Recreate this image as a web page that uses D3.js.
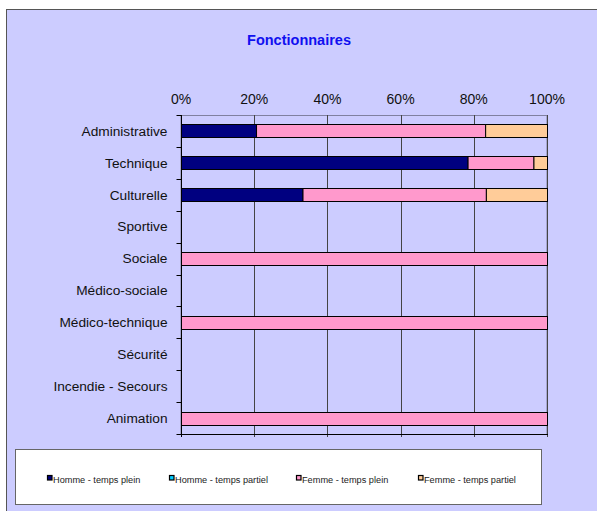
<!DOCTYPE html>
<html>
<head>
<meta charset="utf-8">
<script src="https://cdn.jsdelivr.net/npm/d3@7/dist/d3.min.js"></script>
<style>
  body { margin: 0; background: #fff; }
  svg { display: block; font-family: "Liberation Sans", Arial, sans-serif; }
</style>
</head>
<body>
<div id="chart"></div>
<script>
'use strict';

var categories = ["Administrative", "Technique", "Culturelle", "Sportive", "Sociale",
    "Médico-sociale", "Médico-technique", "Sécurité", "Incendie - Secours", "Animation"];
var series = ["Homme - temps plein", "Homme - temps partiel", "Femme - temps plein", "Femme - temps partiel"];
var hommePlein   = [20.5, 78.3, 33.2, 0, 0,   0, 0,   0, 0, 0];
var hommePartiel = [0,    0,    0,    0, 0,   0, 0,   0, 0, 0];
var femmePlein   = [62.6, 18.0, 50.1, 0, 100, 0, 100, 0, 0, 100];
var femmePartiel = [16.9, 3.7,  16.7, 0, 0,   0, 0,   0, 0, 0];
var tickValues = [0, 0.2, 0.4, 0.6, 0.8, 1];
var colors = ["#000080", "#00CCFF", "#FF99CC", "#FFCC99"];

var width = 597, height = 511;
var plotLeft = 181, plotRight = 547, plotTop = 115, plotBottom = 434;

// build rows as shares of each category total
var rows = categories.map(function (c, i) {
    var vals = [hommePlein[i], hommePartiel[i], femmePlein[i], femmePartiel[i]];
    var total = d3.sum(vals) || 1;
    var r = { cat: c };
    series.forEach(function (s, j) { r[s] = vals[j] / total; });
    return r;
});
var stacked = d3.stack().keys(series)(rows);

var x = d3.scaleLinear().domain([0, 1]).range([plotLeft, plotRight]);
var y = d3.scaleBand().domain(categories).range([plotTop, plotBottom]);
var barH = 13;

var svg = d3.select("#chart").append("svg")
    .attr("width", width)
    .attr("height", height);

// outer frame
svg.append("rect")
    .attr("x", 6.5).attr("y", 9.5)
    .attr("width", width + 10).attr("height", height + 10)
    .attr("fill", "#CCCCFF")
    .attr("stroke", "#555");

svg.append("text")
    .attr("x", 299).attr("y", 45)
    .attr("text-anchor", "middle")
    .attr("font-size", 14.5)
    .attr("font-weight", "bold")
    .attr("fill", "#1010F0")
    .text("Fonctionnaires");

// plot border (top/right gray)
svg.append("rect")
    .attr("x", plotLeft).attr("y", plotTop + 0.5)
    .attr("width", plotRight - plotLeft).attr("height", plotBottom - plotTop)
    .attr("fill", "none")
    .attr("stroke", "#8080A0");

// gridlines
svg.append("g")
    .selectAll("line")
    .data(tickValues)
    .enter().append("line")
    .attr("x1", d => Math.round(x(d)) + 0.5)
    .attr("x2", d => Math.round(x(d)) + 0.5)
    .attr("y1", plotTop)
    .attr("y2", plotBottom + 3)
    .attr("stroke", (d, i) => (i === 0 ? "#000" : "#444"))
    .attr("stroke-width", 1);

// top tick labels
svg.append("g")
    .selectAll("text")
    .data(tickValues)
    .enter().append("text")
    .attr("x", d => x(d))
    .attr("y", 104)
    .attr("text-anchor", "middle")
    .attr("font-size", 14)
    .attr("fill", "#111")
    .text(d3.format(".0%"));

// bars
svg.append("g")
    .selectAll("g")
    .data(stacked)
    .enter().append("g")
    .attr("fill", (d, i) => colors[i])
    .selectAll("rect")
    .data(d => d.filter(p => p[1] - p[0] > 0))
    .enter().append("rect")
    .attr("x", d => x(d[0]) + 0.5)
    .attr("y", d => Math.round(y(d.data.cat) + (y.bandwidth() - barH) / 2) + 0.5)
    .attr("width", d => x(d[1]) - x(d[0]))
    .attr("height", barH)
    .attr("stroke", "#000")
    .attr("stroke-width", 1);

// y axis
var yAxis = svg.append("g").attr("transform", "translate(" + (plotLeft + 0.5) + ",0)");
yAxis.append("line")
    .attr("y1", plotTop).attr("y2", plotBottom + 3)
    .attr("stroke", "#000");
var bounds = d3.range(categories.length + 1).map(i => plotTop + i * y.step());
yAxis.selectAll("line.tick")
    .data(bounds)
    .enter().append("line")
    .attr("class", "tick")
    .attr("x1", -5).attr("x2", 0)
    .attr("y1", d => Math.round(d) + 0.5)
    .attr("y2", d => Math.round(d) + 0.5)
    .attr("stroke", "#000");
yAxis.selectAll("text")
    .data(categories)
    .enter().append("text")
    .attr("x", -14)
    .attr("y", d => y(d) + y.bandwidth() / 2)
    .attr("dy", "0.35em")
    .attr("text-anchor", "end")
    .attr("font-size", 13.7)
    .attr("fill", "#111")
    .text(d => d);

// bottom axis line
svg.append("line")
    .attr("x1", plotLeft).attr("x2", plotRight + 1)
    .attr("y1", plotBottom + 0.5).attr("y2", plotBottom + 0.5)
    .attr("stroke", "#000");

// legend
var legend = svg.append("g");
legend.append("rect")
    .attr("x", 15.5).attr("y", 449.5)
    .attr("width", 526).attr("height", 55)
    .attr("fill", "#fff")
    .attr("stroke", "#666");
var legendX = [47, 169, 296, 418];
var item = legend.selectAll("g.item")
    .data(series)
    .enter().append("g")
    .attr("class", "item")
    .attr("transform", (d, i) => "translate(" + legendX[i] + ",475)");
item.append("rect")
    .attr("x", 0.5).attr("y", 0.5)
    .attr("width", 4.5).attr("height", 4.5)
    .attr("fill", (d, i) => colors[i])
    .attr("stroke", "#000")
    .attr("stroke-width", 1.2);
item.append("text")
    .attr("x", 6)
    .attr("y", 7.5)
    .attr("font-size", 9.2)
    .attr("fill", "#222")
    .text(d => d);
</script>
</body>
</html>
